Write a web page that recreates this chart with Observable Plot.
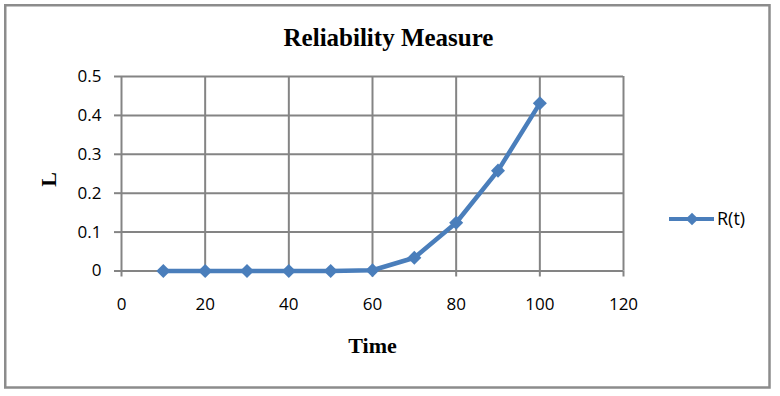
<!DOCTYPE html>
<html>
<head>
<meta charset="utf-8">
<script src="https://cdn.jsdelivr.net/npm/d3@7"></script>
<script src="https://cdn.jsdelivr.net/npm/@observablehq/plot@0.6"></script>
<style>
  html, body { margin: 0; padding: 0; background: #fff; }
  #chart { position: relative; width: 780px; height: 396px; }
</style>
</head>
<body>
<div id="chart"></div>
<script>
// ---- data ----
const times = [10, 20, 30, 40, 50, 60, 70, 80, 90, 100];
const reliability = [0, 0, 0, 0, 0, 0.002, 0.034, 0.124, 0.258, 0.431];
const xTicks = [0, 20, 40, 60, 80, 100, 120];
const yTicks = [0, 0.1, 0.2, 0.3, 0.4, 0.5];
const yTickLabels = ["0", "0.1", "0.2", "0.3", "0.4", "0.5"];
const seriesName = "R(t)";
const chartTitle = "Reliability Measure";
const xLabel = "Time";
const yLabel = "L";

const data = times.map((t, i) => ({t, r: reliability[i]}));

const blue = "#4A7EBB";
const gray = "#848484";
const serif = "'Liberation Serif', 'Times New Roman', serif";
const sans = "'Open Sans', sans-serif";

const plot = Plot.plot({
  width: 780,
  height: 396,
  marginLeft: 121,
  marginRight: 157,
  marginTop: 76,
  marginBottom: 125.5,
  style: {fontFamily: sans, fontSize: "17px", color: "black", background: "white"},
  x: {domain: [0, 120]},
  y: {domain: [0, 0.5]},
  marks: [
    Plot.gridX(xTicks, {stroke: gray, strokeOpacity: 1, strokeWidth: 2}),
    Plot.gridY(yTicks, {stroke: gray, strokeOpacity: 1, strokeWidth: 2}),
    Plot.axisX({ticks: xTicks, tickSize: 6, tickPadding: 21, stroke: gray, strokeWidth: 2, fill: "black", fontSize: 17, label: null, tickFormat: d => String(d)}),
    Plot.axisY({ticks: yTicks, tickSize: 7, tickPadding: 13, stroke: gray, strokeWidth: 2, fill: "black", fontSize: 17, label: null,
      tickFormat: d => yTickLabels[yTicks.findIndex(v => Math.abs(v - d) < 1e-9)]}),
    Plot.line(data, {x: "t", y: "r", stroke: blue, strokeWidth: 4.5, strokeLinejoin: "round"}),
    Plot.dot(data, {x: "t", y: "r", symbol: "square", r: 5.6, rotate: 45, fill: blue, stroke: null}),
    Plot.text([chartTitle], {frameAnchor: "top", dx: 16, dy: -48, fontFamily: serif, fontWeight: "bold", fontSize: 25, fill: "black"}),
    Plot.text([xLabel], {frameAnchor: "bottom", dy: 82, fontFamily: serif, fontWeight: "bold", fontSize: 22, fill: "black"}),
    Plot.text([yLabel], {frameAnchor: "left", dx: -73, dy: 13, rotate: -90, fontFamily: serif, fontWeight: "bold", fontSize: 22, fill: "black"})
  ]
});

document.getElementById("chart").appendChild(plot);

// outer chart border and legend
const svg = d3.select(plot);
svg.append("rect")
  .attr("x", 5.25).attr("y", 5.25).attr("width", 764.25).attr("height", 382.25)
  .attr("fill", "none").attr("stroke", "#8c8c8c").attr("stroke-width", 2.5);

const lg = svg.append("g").attr("transform", "translate(669,219)");
lg.append("line").attr("x1", 0).attr("x2", 45).attr("y1", 0).attr("y2", 0)
  .attr("stroke", blue).attr("stroke-width", 4);
lg.append("path").attr("d", d3.symbol(d3.symbolSquare, 80)())
  .attr("transform", "translate(23,0) rotate(45)").attr("fill", blue);
lg.append("text").attr("x", 48).attr("y", 0).attr("dy", "0.35em")
  .attr("text-anchor", "start")
  .attr("font-family", sans).attr("font-size", 18).attr("fill", "black").text(seriesName);
</script>
</body>
</html>
